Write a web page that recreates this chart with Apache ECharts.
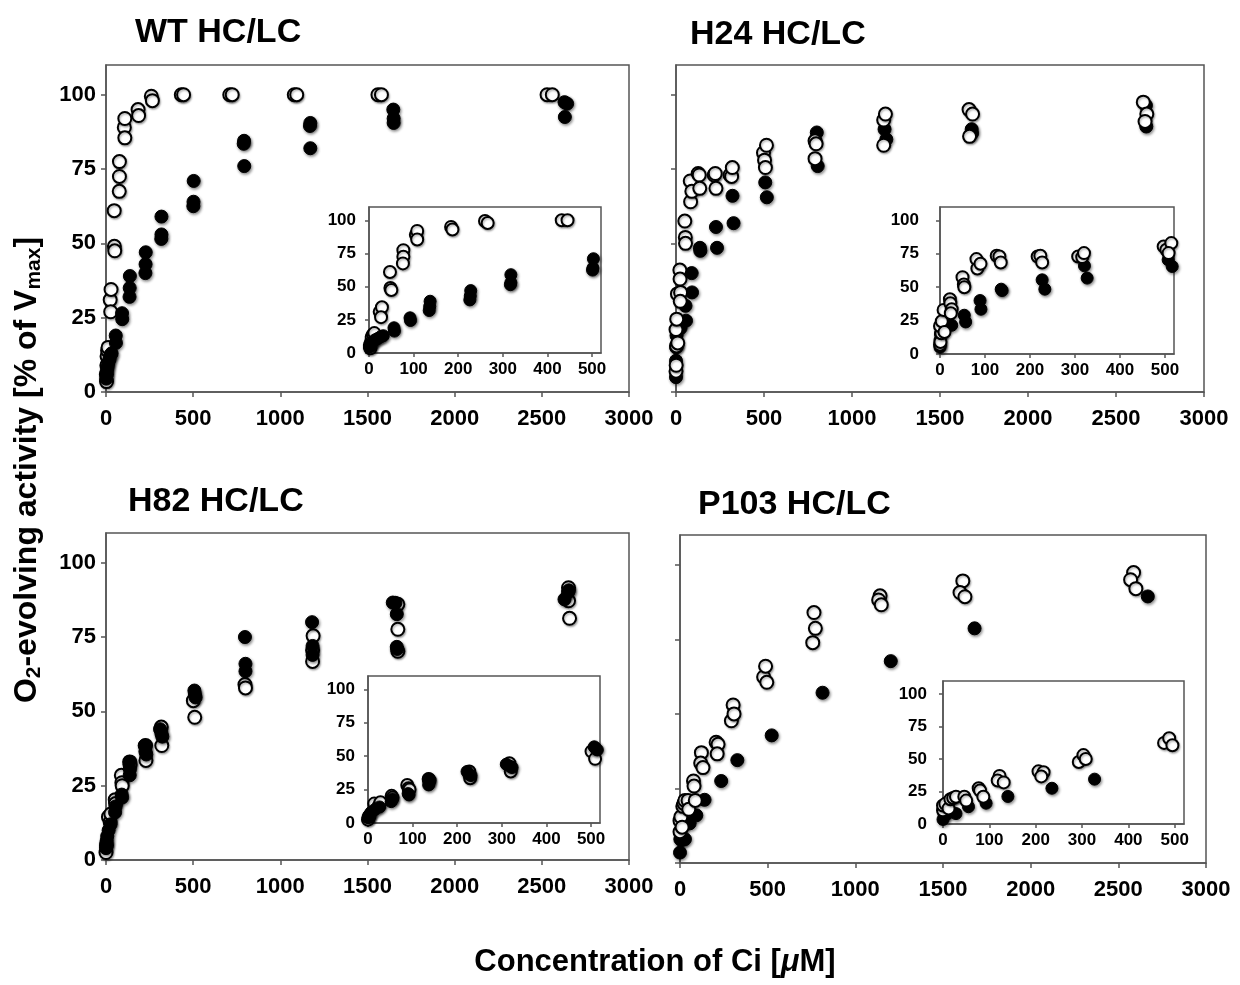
<!DOCTYPE html>
<html><head><meta charset="utf-8">
<script src="https://cdn.jsdelivr.net/npm/echarts@6/dist/echarts.min.js"></script>
<style>html,body{margin:0;padding:0;background:#fff}#c{width:1240px;height:985px}</style>
</head><body><div id="c"></div>
<script>
// ---------- DATA ----------
const panelTitles = ['WT HC/LC', 'H24 HC/LC', 'H82 HC/LC', 'P103 HC/LC'];
const xTicks = [0, 500, 1000, 1500, 2000, 2500, 3000];
const yTicks = [0, 25, 50, 75, 100];
const insetXTicks = [0, 100, 200, 300, 400, 500];
const insetYTicks = [0, 25, 50, 75, 100];

// [Ci concentration (µM), O2-evolving activity (% of Vmax)]
const wtOpen = [[3,3.5],[2,6],[5,9],[6,12],[9,14],[12,15],
  [24,31],[29,34.5],[27,27],[47,61],[48,49],[50,47.5],
  [77,77.5],[77,72.5],[76,67.5],[105,89],[108,92],[108,85.5],
  [184,95],[187,93],[260,99.5],[266,98],[432,100],[445,100],
  [710,100],[724,100],[1080,100],[1094,100],[1560,100],[1580,100],
  [2530,100],[2560,100]];
const wtFilled = [[1,4.5],[3,6],[6,7.5],[9,8.5],[14,10],[20,11],[27,12.5],[32,13],
  [56,19],[57,16.5],[92,26.5],[93,24.5],[137,39],[136,35],[135,32],
  [228,47],[227,43],[226,40],[318,59],[318,53],[317,51.5],
  [503,71],[502,64],[501,62.5],[792,84.5],[790,83.5],[793,76],
  [1172,90.5],[1170,89.5],[1172,82],[1648,95],[1650,92],[1650,90.5],
  [2630,97.5],[2645,97],[2632,92.5]];

const h24Open = [[0,7],[1,9],[3,15.5],[0,21],[4,24.5],[10,16.5],[8,33],
  [22,41],[23,38],[26,33.5],[24,30.5],[50,57.5],[53,52],[54,50],
  [81,71],[83,64],[90,67.5],[126,73.5],[132,73],[135,68.5],
  [217,73],[223,73.5],[227,68.5],[307,73],[316,72.5],[320,75.5],
  [497,80.5],[503,78],[514,83],[508,75.5],
  [790,84.5],[796,83.5],[790,78.5],[1180,91.5],[1190,93.5],[1180,83],
  [1665,95],[1685,93.5],[1668,86],[2655,97.5],[2675,93.5],[2665,91]];
const h24Filled = [[0,5],[0,10.5],[1,15],[3,19],[11,22],[26,21.5],
  [54,29],[57,24],[89,40],[91,33.5],[136,48.5],[138,47.5],
  [227,55.5],[233,48.5],[321,66],[327,56.8],[507,70.5],[516,65.5],
  [800,87.3],[805,76],[1185,88.4],[1195,85],[1680,88.4],[1682,87],
  [2670,96.4],[2672,89.3]];

const h82Open = [[0,2.5],[3,5],[14,14.5],[24,12.8],[28,15.5],
  [53,20.3],[55,19],[88,28.5],[91,26],[93,25],[136,33],[138,32],
  [227,38.5],[229,33.5],[317,44.7],[320,38.5],[501,53.6],[509,48],
  [797,59],[800,57.9],[1188,75.4],[1185,70.6],[1185,66.8],
  [1674,86],[1674,77.6],[1674,70.2],[2653,91.6],[2653,87.2],[2659,81.3]];
const h82Filled = [[0,4],[2,5.5],[4,6.5],[7,8],[15,10],[26,12],
  [52,16],[55,18],[90,22],[92,21],[136,33],[137,30.5],[136,28.5],
  [222,38.5],[226,36.5],[231,35.5],[310,44],[318,42.5],[323,41.5],
  [507,57],[510,55.9],[514,54.7],[797,75],[800,66],[800,63.5],
  [1182,80],[1185,72],[1185,69],[1645,86.6],[1660,86.5],[1668,82.7],[1668,71.7],[1670,71],
  [2630,87.7],[2650,90],[2655,90.7]];

const p103Open = [[0,10.5],[0,14.2],[5,15.5],[12,12],[16,19],[22,20],[28,21],
  [46,21],[50,18],[77,27.5],[80,25.8],[87,21],[122,37],[118,33.5],[131,32],
  [206,40.5],[217,39.8],[212,36.6],[293,47.7],[303,53],[308,50],
  [477,62.4],[488,66],[495,60.6],[764,84],[772,78.7],[757,73.9],
  [1141,89.6],[1133,88.2],[1148,86.6],[1613,94.6],[1597,90.7],[1625,89.3],
  [2587,97.4],[2570,95],[2600,92]];
const p103Filled = [[0,3.5],[2,8],[9,7.7],[28,8],[55,13.3],[93,16],[140,21.2],
  [235,27.5],[327,34.5],[523,42.8],[813,57.1],[1202,67.7],[1680,78.7],[2668,89.4]];

// ---------- LAYOUT / STYLE ----------
const FONT = '"Liberation Sans", Arial, Helvetica, sans-serif';
const AX = '#555';
const panels = [
  {title: panelTitles[0], open: wtOpen, filled: wtFilled, tx: 135, ty: 33,
   main: {left: 106, top: 65, width: 523, height: 327}, inset: {left: 369, top: 207, width: 232, height: 146},
   yLabels: true, insetYMargin: 13, openOnTop: false},
  {title: panelTitles[1], open: h24Open, filled: h24Filled, tx: 690, ty: 35,
   main: {left: 676, top: 65, width: 528, height: 327}, inset: {left: 940, top: 207, width: 234, height: 147},
   yLabels: false, insetYMargin: 21, openOnTop: true},
  {title: panelTitles[2], open: h82Open, filled: h82Filled, tx: 128, ty: 502,
   main: {left: 106, top: 533, width: 523, height: 327}, inset: {left: 368, top: 676, width: 232, height: 147},
   yLabels: true, insetYMargin: 13, openOnTop: false},
  {title: panelTitles[3], open: p103Open, filled: p103Filled, tx: 698, ty: 505,
   main: {left: 680, top: 535, width: 526, height: 328}, inset: {left: 943, top: 681, width: 241, height: 143},
   yLabels: false, insetYMargin: 16, openOnTop: true}
];

const grid = [], xAxis = [], yAxis = [], series = [], graphic = [];
const lineStyle = {color: AX, width: 1.5};
const plain = v => String(v);
const openStyle = {color: '#fff', borderColor: '#000', borderWidth: 2, opacity: 1,
  shadowBlur: 2, shadowColor: 'rgba(0,0,0,0.3)', shadowOffsetX: 1, shadowOffsetY: 1.5};
const filledStyle = {color: '#000', borderColor: '#000', borderWidth: 1, opacity: 1,
  shadowBlur: 3, shadowColor: 'rgba(0,0,0,0.45)', shadowOffsetX: 1, shadowOffsetY: 1.5};

panels.forEach((p, i) => {
  const gMain = grid.length;
  grid.push(Object.assign({show: true, borderColor: AX, borderWidth: 1.5, backgroundColor: 'transparent'}, p.main));
  xAxis.push({gridIndex: gMain, type: 'value', min: 0, max: 3000, interval: 500,
    axisLine: {show: true, onZero: false, lineStyle}, axisTick: {show: true, length: 5, lineStyle, customValues: xTicks},
    axisLabel: {show: true, margin: 16, fontSize: 22, fontWeight: 'bold', color: '#000', fontFamily: FONT, customValues: xTicks, formatter: plain},
    splitLine: {show: false}});
  yAxis.push({gridIndex: gMain, type: 'value', min: 0, max: 110, interval: 25,
    axisLine: {show: true, onZero: false, lineStyle}, axisTick: {show: true, length: 5, lineStyle, customValues: yTicks},
    axisLabel: {show: p.yLabels, margin: 10, fontSize: 22, fontWeight: 'bold', color: '#000', fontFamily: FONT, customValues: yTicks, formatter: plain},
    splitLine: {show: false}});
  const gIn = grid.length;
  grid.push(Object.assign({show: true, borderColor: AX, borderWidth: 1.5, backgroundColor: '#fff', z: 3}, p.inset));
  xAxis.push({gridIndex: gIn, type: 'value', min: 0, max: 520, interval: 100, z: 3,
    axisLine: {show: true, onZero: false, lineStyle}, axisTick: {show: true, length: 4, lineStyle, customValues: insetXTicks},
    axisLabel: {show: true, margin: 8, fontSize: 17, fontWeight: 'bold', color: '#000', fontFamily: FONT, customValues: insetXTicks, formatter: plain},
    splitLine: {show: false}});
  yAxis.push({gridIndex: gIn, type: 'value', min: 0, max: 110, interval: 25, z: 3,
    axisLine: {show: true, onZero: false, lineStyle}, axisTick: {show: true, length: 4, lineStyle, customValues: insetYTicks},
    axisLabel: {show: true, margin: p.insetYMargin, fontSize: 17, fontWeight: 'bold', color: '#000', fontFamily: FONT, customValues: insetYTicks, formatter: plain},
    splitLine: {show: false}});

  const mk = (data, style, xi, size, z) => ({type: 'scatter', xAxisIndex: xi, yAxisIndex: xi, data,
    symbol: 'circle', symbolSize: size, itemStyle: style, clip: true, z, silent: true});
  const order = p.openOnTop ? [[p.filled, filledStyle], [p.open, openStyle]] : [[p.open, openStyle], [p.filled, filledStyle]];
  order.forEach(([d, s], k) => series.push(mk(d, s, gMain, 13, 2 + k)));
  order.forEach(([d, s], k) => series.push(mk(d, s, gIn, 12, 5 + k)));

  graphic.push({type: 'text', x: p.tx, y: p.ty, z: 10,
    style: {text: p.title, fill: '#000', font: 'bold 34px ' + FONT, textAlign: 'left', textVerticalAlign: 'middle'}});
});

graphic.push({type: 'text', x: 27, y: 470, rotation: Math.PI / 2, z: 10,
  style: {text: '{n|O}{s|2}{n|-evolving activity [% of V}{s|max}{n|]}', fill: '#000',
    textAlign: 'center', textVerticalAlign: 'middle',
    rich: {n: {fontSize: 32, fontWeight: 'bold', fontFamily: FONT, lineHeight: 36, fill: '#000'},
           s: {fontSize: 21, fontWeight: 'bold', fontFamily: FONT, lineHeight: 18, verticalAlign: 'bottom', fill: '#000'}}}});
graphic.push({type: 'text', x: 655, y: 962, z: 10,
  style: {text: '{n|Concentration of Ci [}{i|μ}{n|M]}', fill: '#000', textAlign: 'center', textVerticalAlign: 'middle',
    rich: {n: {fontSize: 31, fontWeight: 'bold', fontFamily: FONT, fill: '#000'},
           i: {fontSize: 31, fontWeight: 'bold', fontStyle: 'italic', fontFamily: FONT, fill: '#000'}}}});

const chart = echarts.init(document.getElementById('c'), null, {renderer: 'canvas'});
chart.setOption({animation: false, backgroundColor: '#fff', grid, xAxis, yAxis, series, graphic});
</script></body></html>
